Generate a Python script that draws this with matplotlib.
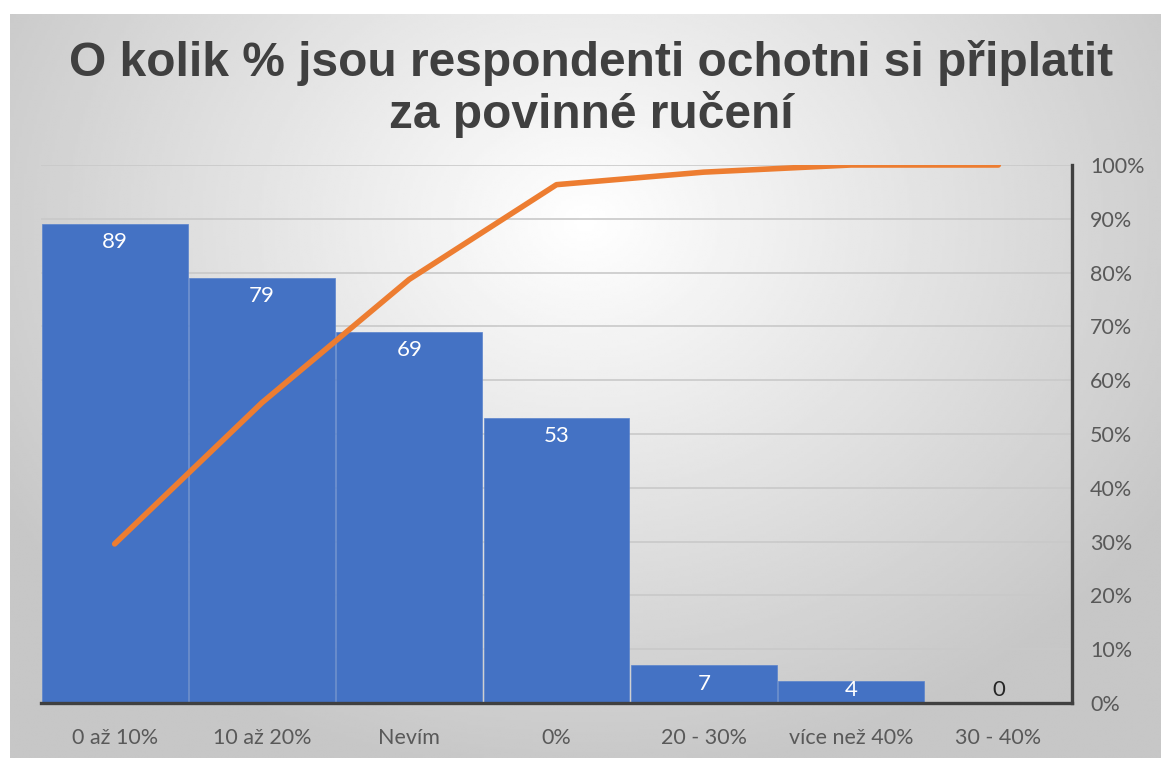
import numpy as np
import matplotlib
matplotlib.use("Agg")
import matplotlib.pyplot as plt
from matplotlib.ticker import FuncFormatter, MultipleLocator

# data
categories = ["0 až 10%", "10 až 20%", "Nevím", "0%", "20 - 30%", "více než 40%", "30 - 40%"]
counts = [89, 79, 69, 53, 7, 4, 0]
title = "O kolik % jsou respondenti ochotni si připlatit\nza povinné ručení"

cum_pct = np.cumsum(counts) / np.sum(counts)

W, H = 1161, 758
fig = plt.figure(figsize=(W / 100, H / 100), dpi=100)
fig.patch.set_facecolor("white")

# gradient background panel
bg = fig.add_axes([10 / W, 0, 1 - 10 / W, (H - 14) / H], zorder=-1)
yy, xx = np.mgrid[0:1:300j, 0:1:450j]
r = np.sqrt(((xx - 0.5) / 0.75) ** 2 + ((yy - 0.28) / 0.95) ** 2)
shade = np.clip(1.0 - 0.28 * r, 0.78, 1.0)
bg.imshow(shade, cmap="gray", vmin=0, vmax=1, aspect="auto", extent=[0, 1, 1, 0],
          interpolation="bilinear")
bg.axis("off")

fig.text(591 / W, 1 - 89 / H, title, ha="center", va="center", fontsize=34.5,
         fontweight="bold", family="Liberation Sans", color="#404040", linespacing=1.15)

ax = fig.add_axes([41 / W, 1 - 703 / H, (1072 - 41) / W, (703 - 165) / H])
ax.patch.set_alpha(0)
x = np.arange(len(categories))
ax.bar(x, counts, width=0.99, color="#4472C4", edgecolor="#5a83cc", linewidth=0.5, zorder=2)
ax.set_xlim(-0.5, len(categories) - 0.5)
ax.set_ylim(0, 100)
ax.set_yticks([])
for s in ["left", "top", "right"]:
    ax.spines[s].set_visible(False)
ax.spines["bottom"].set_color("#404040")
ax.spines["bottom"].set_linewidth(2.4)
ax.spines["bottom"].set_zorder(5)
ax.set_xticks(x)
ax.set_xticklabels(categories, family="Lato", fontsize=15.5, color="#595959")
ax.tick_params(axis="x", length=0, pad=18)

for xi, v in zip(x, counts):
    ypos = max(v - 3.4, 2.4)
    col = "white" if v > 2 else "#262626"
    ax.text(xi, ypos, str(v), ha="center", va="center", fontsize=16,
            family="Lato", color=col, zorder=4)

for g in np.arange(10, 101, 10):
    ax.axhline(g, color="#c9c9c9", linewidth=1.2, zorder=1)

ax2 = ax.twinx()
ax2.set_ylim(0, 1)
ax2.yaxis.set_major_locator(MultipleLocator(0.1))
ax2.yaxis.set_major_formatter(FuncFormatter(lambda v, p: f"{v * 100:.0f}%"))
ax2.tick_params(axis="y", length=0, pad=13, labelsize=15.5, labelcolor="#595959")
for lab in ax2.get_yticklabels():
    lab.set_family("Lato")
for s in ["left", "top", "bottom"]:
    ax2.spines[s].set_visible(False)
ax2.spines["right"].set_color("#404040")
ax2.spines["right"].set_linewidth(2.4)
ax2.plot(x, cum_pct, color="#ED7D31", linewidth=4, solid_capstyle="round", zorder=6)

fig.savefig("out.png", dpi=100)
